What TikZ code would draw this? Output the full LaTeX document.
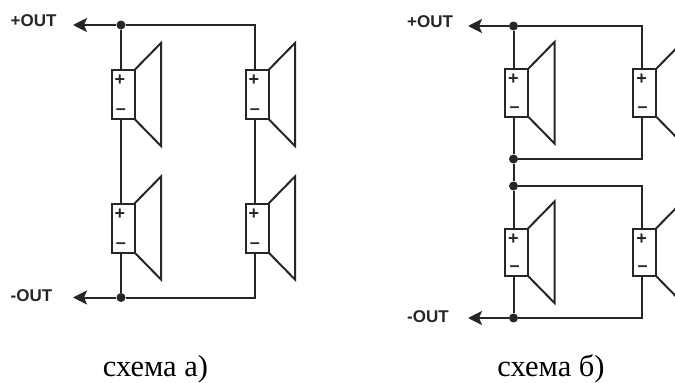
\documentclass[tikz,border=0pt]{standalone}
\usepackage{fontspec}
\setmainfont{Liberation Serif}
\setsansfont{Liberation Sans}
\usetikzlibrary{arrows.meta}
\definecolor{wirecol}{HTML}{262626}
\tikzset{
  wire/.style={draw=wirecol,line width=2pt},
  outwire/.style={wire,{Stealth[length=14pt,width=14pt,inset=3pt]}-},
  coil/.style={wire,rectangle,inner sep=0pt,outer sep=0pt,minimum width=23pt,anchor=north west},
  junction/.style={circle,fill=wirecol,inner sep=0pt,minimum size=9pt},
  pole/.style={font=\sffamily\bfseries\fontsize{18}{18}\selectfont,text=wirecol,inner sep=0pt},
  outlabel/.style={font=\sffamily\bfseries\fontsize{17}{17}\selectfont,text=wirecol,inner sep=0pt,anchor=west},
  caption/.style={font=\fontsize{30.5}{31}\selectfont,text=black,inner sep=0pt}
}
\begin{document}
\begin{tikzpicture}[x=1pt,y=-1pt]
  \clip (0,0) rectangle (675,383);
  % speakers
  \foreach \spk/\x/\y/\h in {A1/111.5/70/49,A2/245.5/70/49,A3/111.5/203.5/49,A4/245.5/203.5/49,
      B1/505/69/47.5,B2/633/69/47.5,B3/505/228.5/47.5,B4/633/228.5/47.5}{
    \node[coil,minimum height=\h pt] (\spk) at (\x,\y) {};
    \draw[wire,line join=miter] (\spk.north east) -- ++(26.5,-27) -- ++(0,\h+54) -- (\spk.south east);
    \node[pole] (plus\spk) at ([xshift=-3pt,yshift=-10.5pt]\spk.north) {+};
    \node[pole] (minus\spk) at ([xshift=-2pt,yshift=7pt]\spk.south) {–};
  }
  % scheme a
  \coordinate (aoutp) at (73,25);
  \coordinate (aoutm) at (73,297.5);
  \coordinate (acnrp) at (254.5,25);
  \coordinate (acnrm) at (254.5,297.5);
  \node[junction] (adotp) at (121,25) {};
  \node[junction] (adotm) at (121,297.5) {};
  \draw[outwire] (aoutp) -- (adotp);
  \draw[outwire] (aoutm) -- (adotm);
  \draw[wire,line join=miter] (adotp) -- (acnrp) -- (acnrp |- A2.north);
  \draw[wire,line join=miter] (adotm) -- (acnrm) -- (acnrm |- A4.south);
  \draw[wire] (adotp) -- (adotp |- A1.north);
  \draw[wire] (adotp |- A1.south) -- (adotp |- A3.north);
  \draw[wire] (adotp |- A3.south) -- (adotm);
  \draw[wire] (acnrp |- A2.south) -- (acnrp |- A4.north);
  \node[outlabel] (aplus) at (10.5,21) {+OUT};
  \node[outlabel] (aminus) at (10.5,295.5) {-OUT};
  % scheme b
  \coordinate (boutp) at (468,26);
  \coordinate (boutm) at (468,318);
  \coordinate (bcnrp) at (642,26);
  \coordinate (bcnrm) at (642,318);
  \coordinate (bcnru) at (642,159);
  \coordinate (bcnrl) at (642,186);
  \node[junction] (bdotp) at (513.5,26) {};
  \node[junction] (bdotu) at (513.5,159) {};
  \node[junction] (bdotl) at (513.5,186) {};
  \node[junction] (bdotm) at (513.5,318) {};
  \draw[outwire] (boutp) -- (bdotp);
  \draw[outwire] (boutm) -- (bdotm);
  \draw[wire,line join=miter] (bdotp) -- (bcnrp) -- (bcnrp |- B2.north);
  \draw[wire,line join=miter] (bdotu) -- (bcnru) -- (bcnru |- B2.south);
  \draw[wire,line join=miter] (bdotl) -- (bcnrl) -- (bcnrl |- B4.north);
  \draw[wire,line join=miter] (bdotm) -- (bcnrm) -- (bcnrm |- B4.south);
  \draw[wire] (bdotp) -- (bdotp |- B1.north);
  \draw[wire] (bdotp |- B1.south) -- (bdotu);
  \draw[wire] (bdotu) -- (bdotl);
  \draw[wire] (bdotl) -- (bdotl |- B3.north);
  \draw[wire] (bdotl |- B3.south) -- (bdotm);
  \node[outlabel] (bplus) at (407,21.5) {+OUT};
  \node[outlabel] (bminus) at (407,317) {-OUT};
  % captions
  \node[caption] (capa) at (155.5,369) {схема а)};
  \node[caption] (capb) at (551,369) {схема б)};
\end{tikzpicture}
\end{document}
